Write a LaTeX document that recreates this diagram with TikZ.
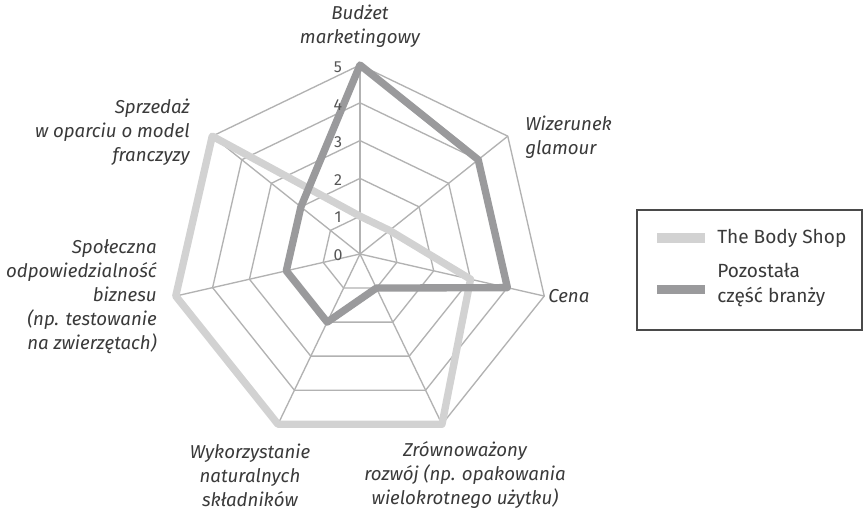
\documentclass[tikz,border=0pt]{standalone}
\usepackage{fontspec}
\setmainfont{Fira Sans}
\definecolor{gridgray}{HTML}{B2B2B2}
\definecolor{lightser}{HTML}{D2D2D2}
\definecolor{darkser}{HTML}{9A9A9C}
\definecolor{txt}{HTML}{3A3A3A}
\definecolor{tickc}{HTML}{555555}
\definecolor{boxc}{HTML}{4A4A4A}
\begin{document}
\begin{tikzpicture}[x=0.75pt,y=-0.75pt,
  gridline/.style={draw=gridgray, line width=1pt, line join=miter},
  lbl/.style={font=\itshape\fontsize{14}{18}\selectfont, text=txt, inner sep=0pt},
  ticklbl/.style={font=\fontsize{12}{14}\selectfont, text=tickc, inner sep=0pt},
  legtxt/.style={font=\fontsize{14.3}{18.5}\selectfont, text=txt, inner sep=0pt, align=left, anchor=west},
  bodyshop/.style={draw=lightser, line width=5.5pt, line join=round},
  others/.style={draw=darkser, line width=5.5pt, line join=round}]
\useasboundingbox (0,0) rectangle (865,510);
\fill[white] (0,0) rectangle (865,510);

\begin{scope}[shift={(360,254)}, yscale=-1]
  % grid rings
  \foreach \k [evaluate=\k as \r using \k*37.8] in {1,...,5}
    \draw[gridline] (90:\r) \foreach \i in {1,...,6}{ -- ({90-\i*360/7}:\r)} -- cycle;
  % spokes
  \foreach \i in {0,...,6}
    \draw[gridline] (0,0) -- ({90-\i*360/7}:189);
  % The Body Shop
  \coordinate (b0) at (90:37.8);
  \coordinate (b1) at ({90-1*360/7}:37.8);
  \coordinate (b2) at ({90-2*360/7}:113.4);
  \coordinate (b3) at ({90-3*360/7}:189);
  \coordinate (b4) at ({90-4*360/7}:189);
  \coordinate (b5) at ({90-5*360/7}:189);
  \coordinate (b6) at ({90-6*360/7}:189);
  % Pozostala czesc branzy
  \coordinate (o0) at (90:189);
  \coordinate (o1) at ({90-1*360/7}:151.2);
  \coordinate (o2) at ({90-2*360/7}:151.2);
  \coordinate (o3) at ({90-3*360/7}:37.8);
  \coordinate (o4) at ({90-4*360/7}:75.6);
  \coordinate (o5) at ({90-5*360/7}:75.6);
  \coordinate (o6) at ({90-6*360/7}:75.6);
  \draw[bodyshop] (b0) -- (b1) -- (b2) -- (b3) -- (b4) -- (b5) -- (b6) -- cycle;
  \draw[others] (o0) -- (o1) -- (o2) -- (o3) -- (o4) -- (o5) -- (o6) -- cycle;
\end{scope}

% axis values
\foreach \v in {0,...,5}
  \node[ticklbl] (t\v) at (338,{255-37.6*\v}) {\v};

% axis labels
\node[lbl, align=center] (lab0) at (360,26) {Budżet\\marketingowy};
\node[lbl, align=left, anchor=west] (lab1) at (525,137) {Wizerunek\\glamour};
\node[lbl, anchor=west] (lab2) at (548,296) {Cena};
\node[lbl, align=center] (lab3) at (465,475) {Zrównoważony\\rozwój (np. opakowania\\wielokrotnego użytku)};
\node[lbl, align=center] (lab4) at (250,475) {Wykorzystanie\\naturalnych\\składników};
\node[lbl, align=right, anchor=east] (lab5) at (157,297) {Społeczna\\odpowiedzialność\\biznesu\\(np. testowanie\\na zwierzętach)};
\node[lbl, align=right, anchor=east] (lab6) at (190,132) {Sprzedaż\\w oparciu o model\\franczyzy};

% legend
\draw[draw=boxc, line width=0.9pt] (637,210) rectangle (862,330);
\fill[lightser] (657,233) rectangle (705,243);
\fill[darkser] (657,285) rectangle (705,294);
\node[legtxt] (leg1) at (717,238) {The Body Shop};
\node[legtxt] (leg2) at (717,285) {Pozostała\\część branży};
\end{tikzpicture}
\end{document}
